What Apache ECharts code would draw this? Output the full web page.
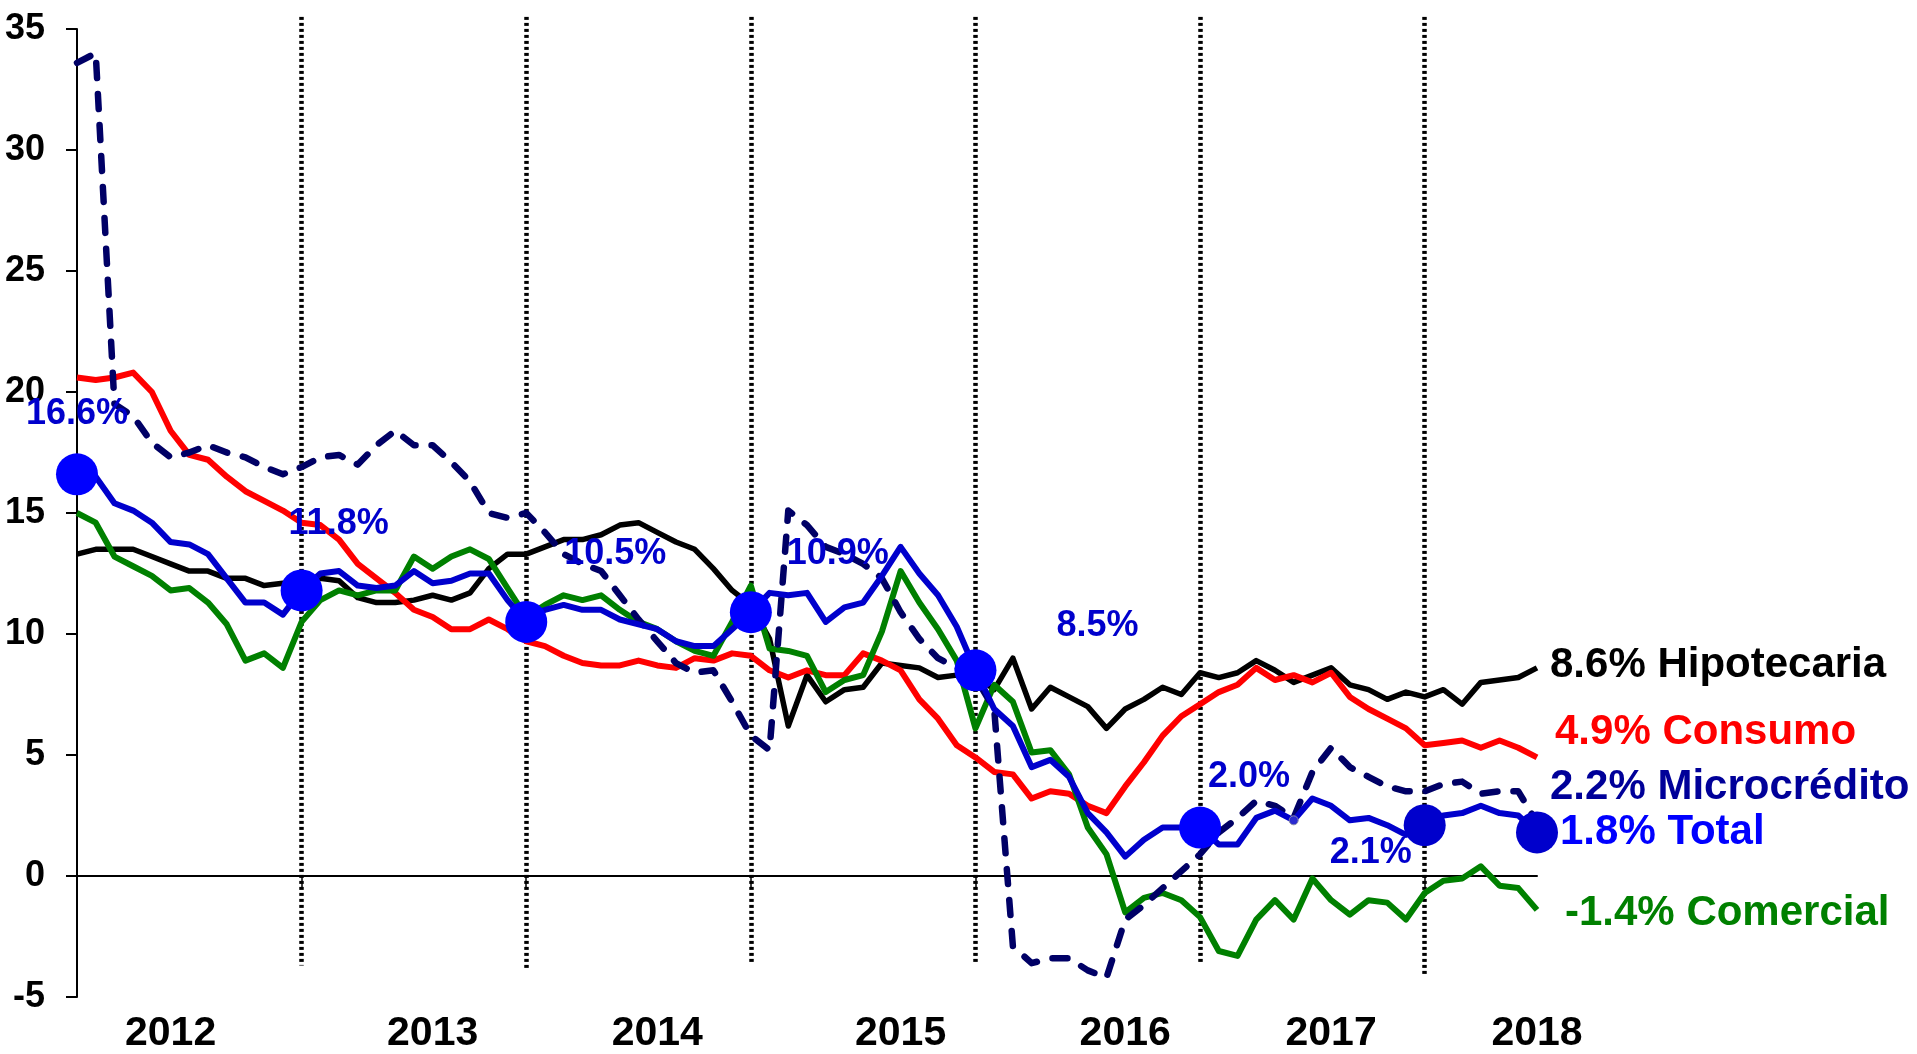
<!DOCTYPE html>
<html><head><meta charset="utf-8">
<script src="https://cdn.jsdelivr.net/npm/echarts@6/dist/echarts.min.js"></script>
<style>html,body{margin:0;padding:0;background:#fff}#c{width:1917px;height:1054px}</style>
</head><body><div id="c"></div>
<script>
const categories = ['2011-12',
 '2012-01','2012-02','2012-03','2012-04','2012-05','2012-06','2012-07','2012-08','2012-09','2012-10','2012-11','2012-12',
 '2013-01','2013-02','2013-03','2013-04','2013-05','2013-06','2013-07','2013-08','2013-09','2013-10','2013-11','2013-12',
 '2014-01','2014-02','2014-03','2014-04','2014-05','2014-06','2014-07','2014-08','2014-09','2014-10','2014-11','2014-12',
 '2015-01','2015-02','2015-03','2015-04','2015-05','2015-06','2015-07','2015-08','2015-09','2015-10','2015-11','2015-12',
 '2016-01','2016-02','2016-03','2016-04','2016-05','2016-06','2016-07','2016-08','2016-09','2016-10','2016-11','2016-12',
 '2017-01','2017-02','2017-03','2017-04','2017-05','2017-06','2017-07','2017-08','2017-09','2017-10','2017-11','2017-12',
 '2018-01','2018-02','2018-03','2018-04','2018-05','2018-06'];

const yearLabelIndex = [5, 19, 31, 44, 56, 67, 78];
const yearLabels = ['2012', '2013', '2014', '2015', '2016', '2017', '2018'];
const dividerIndex = [12, 24, 36, 48, 60, 72];
const dividerTop = [35.5, 35.5, 35.5, 35.5, 35.5, 35.5];
const dividerBottom = [-3.7, -3.8, -3.6, -3.6, -3.6, -4.1];

const hipotecaria = [13.3,13.5,13.5,13.5,13.2,12.9,12.6,12.6,12.3,12.3,12.0,12.1,12.1,
 12.3,12.2,11.5,11.3,11.3,11.4,11.6,11.4,11.7,12.7,13.3,13.3,
 13.6,13.9,13.9,14.1,14.5,14.6,14.2,13.8,13.5,12.7,11.8,11.2,
 9.8,6.2,8.3,7.2,7.7,7.8,8.8,8.7,8.6,8.2,8.3,8.3,
 7.7,9.0,6.9,7.8,7.4,7.0,6.1,6.9,7.3,7.8,7.5,8.4,
 8.2,8.4,8.9,8.5,8.0,8.3,8.6,7.9,7.7,7.3,7.6,7.4,
 7.7,7.1,8.0,8.1,8.2,8.6];
const consumo = [20.6,20.5,20.6,20.8,20.0,18.4,17.4,17.2,16.5,15.9,15.5,15.1,14.6,
 14.5,13.9,12.9,12.3,11.7,11.0,10.7,10.2,10.2,10.6,10.2,9.7,
 9.5,9.1,8.8,8.7,8.7,8.9,8.7,8.6,9.0,8.9,9.2,9.1,
 8.5,8.2,8.5,8.3,8.3,9.2,8.9,8.5,7.3,6.5,5.4,4.9,
 4.3,4.2,3.2,3.5,3.4,2.9,2.6,3.7,4.7,5.8,6.6,7.1,
 7.6,7.9,8.6,8.1,8.3,8.0,8.4,7.4,6.9,6.5,6.1,5.4,
 5.5,5.6,5.3,5.6,5.3,4.9];
const microcredito = [33.6,34.0,19.5,19.0,17.9,17.3,17.5,17.8,17.5,17.3,16.9,16.6,16.9,
 17.3,17.4,17.0,17.8,18.4,17.8,17.8,17.1,16.3,15.0,14.8,15.0,
 14.2,13.3,12.9,12.6,11.6,10.6,9.7,8.8,8.4,8.5,7.2,5.8,
 5.2,15.1,14.5,13.6,13.3,12.9,12.3,10.9,9.8,9.0,8.6,8.2,
 6.9,-2.9,-3.6,-3.4,-3.4,-3.9,-4.2,-1.8,-1.2,-0.5,0.2,0.9,
 1.8,2.4,3.1,2.9,2.4,4.3,5.3,4.5,4.1,3.7,3.5,3.5,
 3.8,3.9,3.4,3.5,3.5,2.2];
const total = [16.6,16.5,15.4,15.1,14.6,13.8,13.7,13.3,12.3,11.3,11.3,10.8,11.8,
 12.5,12.6,12.0,11.9,12.0,12.6,12.1,12.2,12.5,12.5,11.4,10.5,
 11.0,11.2,11.0,11.0,10.6,10.4,10.2,9.7,9.5,9.5,10.2,10.9,
 11.7,11.6,11.7,10.5,11.1,11.3,12.4,13.6,12.5,11.6,10.3,8.5,
 6.9,6.2,4.5,4.8,4.1,2.6,1.8,0.8,1.5,2.0,2.0,2.0,
 1.3,1.3,2.4,2.7,2.3,3.2,2.9,2.3,2.4,2.1,1.7,2.1,
 2.5,2.6,2.9,2.6,2.5,1.8];
const comercial = [15.0,14.6,13.2,12.8,12.4,11.8,11.9,11.3,10.4,8.9,9.2,8.6,10.5,
 11.4,11.8,11.6,11.8,11.8,13.2,12.7,13.2,13.5,13.1,11.9,10.7,
 11.2,11.6,11.4,11.6,11.0,10.5,10.2,9.7,9.3,9.1,10.5,12.0,
 9.4,9.3,9.1,7.6,8.1,8.3,10.1,12.6,11.3,10.2,8.9,6.1,
 7.9,7.2,5.1,5.2,4.2,2.0,0.9,-1.5,-0.9,-0.7,-1.0,-1.7,
 -3.1,-3.3,-1.8,-1.0,-1.8,-0.1,-1.0,-1.6,-1.0,-1.1,-1.8,-0.7,
 -0.2,-0.1,0.4,-0.4,-0.5,-1.4];

const totalDotIndex = [0, 12, 24, 36, 48, 60, 72, 78];
const smallDotIndex = [65];

// styling for the highlighted Total dots (label offsets in px, colours)
const dotStyle = {
  0:  {off: [0, -60],   color: '#0000FF', label: true},
  12: {off: [37, -66],  color: '#0000FF', label: true},
  24: {off: [89, -68],  color: '#0000FF', label: true},
  36: {off: [87, -58],  color: '#0000FF', label: true},
  48: {off: [122, -44], color: '#0000FF', label: true},
  60: {off: [49, -51],  color: '#0000FF', label: true},
  72: {off: [-54, 28],  color: '#0000CC', label: true},
  78: {off: [0, 0],     color: '#0000CC', label: false}
};

const FONT = "'Liberation Sans', Arial, Helvetica, sans-serif";

const totalData = total.map(function (v, i) {
  if (totalDotIndex.indexOf(i) >= 0) {
    const s = dotStyle[i];
    const item = {value: v, symbol: 'circle', symbolSize: 42, itemStyle: {color: s.color}};
    if (s.label) {
      item.label = {show: true, position: 'inside', offset: s.off,
        formatter: v.toFixed(1) + '%', color: '#0000CC', fontSize: 36,
        fontWeight: 'bold', fontFamily: FONT};
    }
    return item;
  }
  if (smallDotIndex.indexOf(i) >= 0) {
    return {value: v, symbol: 'circle', symbolSize: 9,
      itemStyle: {color: '#2a2ad0', borderColor: '#8888aa', borderWidth: 1}};
  }
  return v;
});

function endLabel(name, color, distance, offset) {
  return {
    show: true,
    formatter: function (p) { return Number(p.value).toFixed(1) + '% ' + name; },
    color: color, fontSize: 42, fontWeight: 'bold', fontFamily: FONT,
    distance: distance, offset: offset
  };
}

const chart = echarts.init(document.getElementById('c'), null, {renderer: 'canvas'});
chart.setOption({
  animation: false,
  backgroundColor: '#ffffff',
  grid: {left: 77, right: 380, top: 29, bottom: 56, containLabel: false},
  xAxis: [
    {
      type: 'category', data: categories, boundaryGap: false, position: 'bottom',
      axisLine: {show: false, onZero: false},
      axisTick: {show: false},
      splitLine: {show: false},
      axisLabel: {
        interval: function (i) { return yearLabelIndex.indexOf(i) >= 0; },
        formatter: function (v, i) { const k = yearLabelIndex.indexOf(i); return k >= 0 ? yearLabels[k] : ''; },
        fontSize: 41, fontWeight: 'bold', color: '#000', fontFamily: FONT,
        margin: 16, lineHeight: 41
      }
    },
    {
      type: 'category', data: categories, boundaryGap: false, position: 'bottom',
      axisLine: {show: true, onZero: true, lineStyle: {color: '#000', width: 2}},
      axisTick: {show: true, length: 12,
        interval: function (i) { return dividerIndex.indexOf(i) >= 0; },
        lineStyle: {color: '#000', width: 1.5}},
      axisLabel: {show: false},
      splitLine: {show: false}
    }
  ],
  yAxis: {
    type: 'value', min: -5, max: 35, interval: 5,
    axisLine: {show: true, onZero: false, lineStyle: {color: '#000', width: 2}},
    axisTick: {show: true, length: 11, lineStyle: {color: '#000', width: 2}},
    splitLine: {show: false},
    axisLabel: {fontSize: 36, fontWeight: 'bold', color: '#000', fontFamily: FONT, margin: 32}
  },
  series: [
    {
      type: 'lines', coordinateSystem: 'cartesian2d', xAxisIndex: 0, yAxisIndex: 0,
      silent: true, clip: false, z: 1,
      lineStyle: {color: '#000', width: 4.5, type: [3, 3], opacity: 1, curveness: 0},
      data: dividerIndex.map(function (ix, k) {
        return {coords: [[ix, dividerTop[k]], [ix, dividerBottom[k]]]};
      })
    },
    {
      name: 'Hipotecaria', type: 'line', data: hipotecaria, symbol: 'none', z: 3,
      lineStyle: {color: '#000000', width: 5.5, join: 'round'}, itemStyle: {color: '#000000'},
      endLabel: endLabel('Hipotecaria', '#000000', 13, [0, -2])
    },
    {
      name: 'Consumo', type: 'line', data: consumo, symbol: 'none', z: 3,
      lineStyle: {color: '#FF0000', width: 6, join: 'round'}, itemStyle: {color: '#FF0000'},
      endLabel: endLabel('Consumo', '#FF0000', 18, [0, -25])
    },
    {
      name: 'Comercial', type: 'line', data: comercial, symbol: 'none', z: 3,
      lineStyle: {color: '#008000', width: 6, join: 'round'}, itemStyle: {color: '#008000'},
      endLabel: endLabel('Comercial', '#008000', 28, [0, 4])
    },
    {
      name: 'Microcrédito', type: 'line', data: microcredito, symbol: 'none', z: 3,
      lineStyle: {color: '#000066', width: 6.5, type: [15, 16], cap: 'round', join: 'round'},
      itemStyle: {color: '#000066'},
      endLabel: endLabel('Microcrédito', '#000099', 13, [0, -35])
    },
    {
      name: 'Total', type: 'line', data: totalData, symbol: 'none', showSymbol: true, showAllSymbol: true, z: 4,
      lineStyle: {color: '#0000CC', width: 6, join: 'round'}, itemStyle: {color: '#0000FF'},
      endLabel: endLabel('Total', '#0000FF', 23, [0, 0])
    }
  ]
});
</script>
</body></html>
